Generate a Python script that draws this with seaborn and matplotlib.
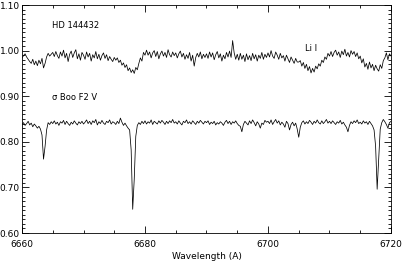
import numpy as np
import pandas as pd
import seaborn as sns
import matplotlib.pyplot as plt
from matplotlib.ticker import MultipleLocator, FormatStrFormatter

# spectra sampled every 0.25 A from 6660 to 6720 A
lam_start = 6660.0
lam_step = 0.25

# HD 144432 (upper spectrum)
hd_flux = [
    0.984, 0.989, 0.993, 0.986, 0.981, 0.976, 0.972, 0.981, 0.969, 0.977, 0.967, 0.979, 0.971, 0.983, 0.962, 0.972, 0.986, 0.994, 0.988, 0.992,
    0.996, 0.987, 0.998, 0.989, 0.983, 0.997, 0.988, 1.001, 0.984, 0.994, 0.976, 0.992, 0.999, 0.985, 0.995, 1.002, 0.982, 0.993, 0.979, 0.996,
    0.990, 0.981, 0.997, 0.986, 0.994, 0.977, 0.991, 0.984, 0.998, 0.982, 0.992, 0.979, 0.989, 0.995, 0.983, 0.991, 0.978, 0.987, 0.981, 0.976,
    0.985, 0.979, 0.984, 0.974, 0.979, 0.968, 0.973, 0.963, 0.969, 0.956, 0.962, 0.952, 0.958, 0.950, 0.963, 0.958, 0.972, 0.984, 0.977, 0.996,
    0.990, 1.001, 0.990, 0.997, 0.984, 0.995, 1.000, 0.987, 0.998, 0.982, 0.993, 0.999, 0.988, 0.996, 0.985, 1.002, 0.991, 0.986, 0.997, 0.989,
    0.995, 0.984, 0.993, 0.999, 0.986, 0.994, 0.981, 0.991, 0.983, 0.996, 0.977, 0.990, 0.966, 0.985, 0.994, 0.986, 0.997, 0.982, 0.992, 0.985,
    0.993, 0.983, 0.997, 0.986, 0.995, 0.980, 0.991, 0.998, 0.984, 0.993, 0.977, 0.990, 0.982, 0.996, 0.986, 0.999, 0.985, 1.022, 0.995, 0.981,
    0.992, 0.979, 0.994, 0.981, 0.990, 0.976, 0.993, 0.980, 0.989, 0.978, 0.994, 0.982, 0.991, 0.977, 0.990, 0.983, 0.996, 0.981, 0.992, 0.985,
    0.995, 0.986, 1.000, 0.988, 0.983, 0.997, 0.990, 0.981, 0.994, 0.984, 0.989, 0.977, 0.990, 0.982, 0.974, 0.986, 0.979, 0.972, 0.983, 0.975,
    0.975, 0.978, 0.966, 0.974, 0.961, 0.970, 0.956, 0.965, 0.951, 0.961, 0.953, 0.966, 0.960, 0.971, 0.966, 0.979, 0.974, 0.986, 0.981, 0.994,
    0.988, 0.998, 0.987, 0.996, 1.001, 0.990, 0.997, 0.985, 0.999, 0.991, 1.003, 0.988, 0.996, 0.986, 1.000, 0.992, 0.998, 0.987, 0.995, 0.982,
    0.988, 0.973, 0.982, 0.964, 0.972, 0.959, 0.975, 0.962, 0.970, 0.956, 0.968, 0.960, 0.955, 0.969, 0.961, 0.978, 0.984, 0.995, 0.980, 0.993,
    0.988,
]

# sigma Boo F2 V (lower spectrum)
sboo_flux = [
    0.838, 0.842, 0.836, 0.840, 0.845, 0.837, 0.841, 0.833, 0.839, 0.835, 0.830, 0.834, 0.828, 0.815, 0.762, 0.790, 0.826, 0.842, 0.838, 0.844,
    0.840, 0.846, 0.839, 0.843, 0.836, 0.844, 0.841, 0.847, 0.838, 0.845, 0.840, 0.836, 0.843, 0.839, 0.846, 0.841, 0.837, 0.844, 0.840, 0.845,
    0.839, 0.843, 0.848, 0.840, 0.845, 0.838, 0.846, 0.842, 0.849, 0.837, 0.844, 0.840, 0.847, 0.841, 0.838, 0.845, 0.842, 0.848, 0.839, 0.844,
    0.842, 0.838, 0.845, 0.840, 0.852, 0.843, 0.836, 0.841, 0.835, 0.830, 0.826, 0.782, 0.652, 0.718, 0.812, 0.836, 0.842, 0.838, 0.845, 0.840,
    0.846, 0.839, 0.844, 0.841, 0.848, 0.838, 0.845, 0.842, 0.839, 0.846, 0.841, 0.847, 0.843, 0.838, 0.845, 0.840, 0.846, 0.842, 0.849, 0.841,
    0.844, 0.839, 0.846, 0.841, 0.837, 0.845, 0.842, 0.848, 0.840, 0.844, 0.839, 0.846, 0.842, 0.838, 0.845, 0.841, 0.847, 0.843, 0.839, 0.845,
    0.842, 0.846, 0.838, 0.843, 0.840, 0.845, 0.837, 0.842, 0.839, 0.844, 0.841, 0.836, 0.843, 0.847, 0.840, 0.845, 0.838, 0.844, 0.841, 0.846,
    0.840, 0.836, 0.834, 0.822, 0.838, 0.845, 0.841, 0.837, 0.846, 0.840, 0.848, 0.842, 0.835, 0.844, 0.839, 0.830, 0.841, 0.838, 0.847, 0.843,
    0.845, 0.840, 0.848, 0.838, 0.844, 0.849, 0.841, 0.846, 0.837, 0.843, 0.839, 0.832, 0.845, 0.840, 0.826, 0.838, 0.843, 0.835, 0.841, 0.828,
    0.810, 0.832, 0.842, 0.846, 0.839, 0.844, 0.840, 0.847, 0.843, 0.838, 0.845, 0.841, 0.848, 0.842, 0.839, 0.846, 0.840, 0.844, 0.849, 0.841,
    0.845, 0.840, 0.846, 0.842, 0.838, 0.844, 0.841, 0.847, 0.839, 0.843, 0.837, 0.832, 0.822, 0.836, 0.844, 0.840, 0.846, 0.842, 0.848, 0.840,
    0.843, 0.839, 0.846, 0.841, 0.844, 0.838, 0.845, 0.840, 0.835, 0.826, 0.790, 0.696, 0.760, 0.828, 0.842, 0.849, 0.844, 0.838, 0.830, 0.842,
    0.845,
]

wavelength = lam_start + lam_step * np.arange(len(hd_flux))

df = pd.concat([
    pd.DataFrame({'wavelength': wavelength, 'flux': hd_flux, 'star': 'HD 144432'}),
    pd.DataFrame({'wavelength': wavelength, 'flux': sboo_flux, 'star': 'sigma Boo'}),
])

sns.set_style('ticks')
plt.rcParams['font.family'] = ['DejaVu Sans']
plt.rcParams['text.color'] = 'black'
plt.rcParams['axes.labelcolor'] = 'black'

fig = plt.figure(figsize=(4.03, 2.64), dpi=100)
ax = fig.add_axes([0.0546, 0.1174, 0.9156, 0.8636])

sns.lineplot(data=df, x='wavelength', y='flux', units='star', estimator=None,
             sort=False, color='black', linewidth=0.55, ax=ax)

ax.set_xlim(6660, 6720)
ax.set_ylim(0.60, 1.10)
ax.xaxis.set_major_locator(MultipleLocator(20))
ax.xaxis.set_minor_locator(MultipleLocator(5))
ax.yaxis.set_major_locator(MultipleLocator(0.1))
ax.yaxis.set_minor_locator(MultipleLocator(0.01))
ax.yaxis.set_major_formatter(FormatStrFormatter('%.2f'))

ax.tick_params(which='both', direction='in', top=True, right=True,
               width=0.6, labelsize=6.5, colors='black')
ax.tick_params(which='major', length=5)
ax.tick_params(which='minor', length=2.5)
ax.tick_params(axis='y', pad=1.5)
ax.tick_params(axis='x', pad=5)
for s in ax.spines.values():
    s.set_linewidth(0.6)
    s.set_color('black')

ax.set_xlabel('Wavelength (A)', fontsize=6.5, labelpad=2)
ax.set_ylabel('')

ax.text(6664.9, 1.054, 'HD 144432', fontsize=6, va='center')
ax.text(6664.9, 0.898, 'σ Boo F2 V', fontsize=6, va='center')
ax.text(6706.0, 1.004, 'Li I', fontsize=6, va='center')

fig.savefig('out.png', dpi=100)
